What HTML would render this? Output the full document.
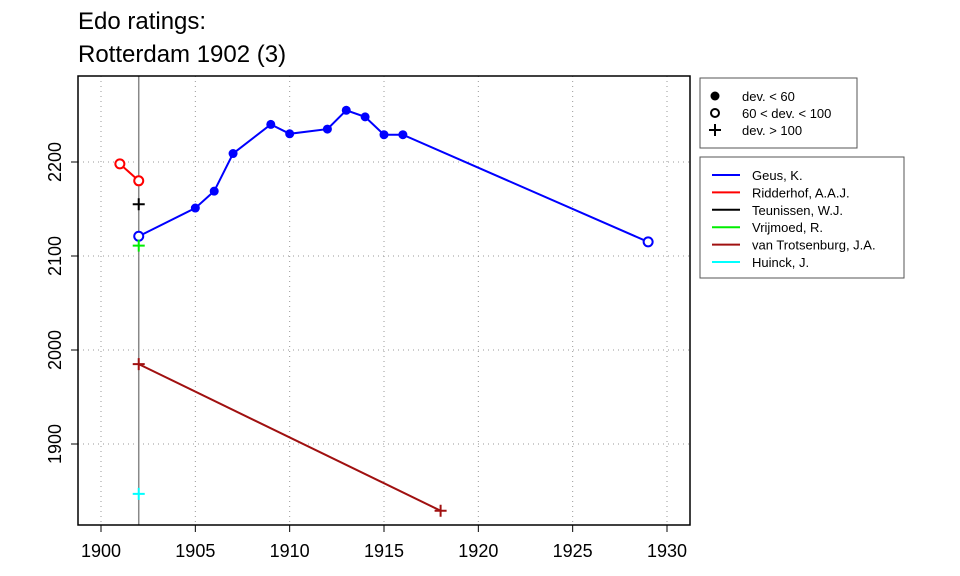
<!DOCTYPE html>
<html><head><meta charset="utf-8"><style>
body{margin:0;background:#fff}
svg{display:block;font-family:"Liberation Sans",Arial,sans-serif}
</style></head><body>
<svg id="c" width="960" height="576">
<text x="78" y="29" font-size="24">Edo ratings:</text>
<text x="78" y="62" font-size="24">Rotterdam 1902 (3)</text>
<g id="grid"></g>
<g id="axes"></g>
<g id="series"></g>
<rect x="78" y="76" width="612" height="449" fill="none" stroke="#000" stroke-width="1.5"/>
<g>
<rect x="700" y="78" width="157" height="70" fill="#fff" stroke="#555"/>
<circle cx="715" cy="96" r="4.5" fill="#000"/>
<circle cx="715" cy="113" r="4" fill="none" stroke="#000" stroke-width="2"/>
<path d="M709 130h12M715 124v12" stroke="#000" stroke-width="2"/>
<text x="742" y="101" font-size="13">dev. &lt; 60</text>
<text x="742" y="118" font-size="13">60 &lt; dev. &lt; 100</text>
<text x="742" y="135" font-size="13">dev. &gt; 100</text>
</g>
<g id="legend">
<rect x="700" y="157" width="204" height="121" fill="#fff" stroke="#555"/>
</g>
</svg>
<script>
const years=[1902,1905,1906,1907,1909,1910,1912,1913,1914,1915,1916,1929];
const geusVals=[2121,2151,2169,2209,2240,2230,2235,2255,2248,2229,2229,2115];
const geusSym=['o','f','f','f','f','f','f','f','f','f','f','o'];
const ridYears=[1901,1902];const ridVals=[2198,2180];const ridSym=['o','o'];
const teuYears=[1902];const teuVals=[2155];const teuSym=['p'];
const vriYears=[1902];const vriVals=[2111];const vriSym=['p'];
const vanYears=[1902,1918];const vanVals=[1985,1829];const vanSym=['p','p'];
const huiYears=[1902];const huiVals=[1847];const huiSym=['p'];
const xTicks=[1900,1905,1910,1915,1920,1925,1930];
const yTicks=[1900,2000,2100,2200];
const names=['Geus, K.','Ridderhof, A.A.J.','Teunissen, W.J.','Vrijmoed, R.','van Trotsenburg, J.A.','Huinck, J.'];
const colors=['#0000ff','#ff0000','#000000','#00ee00','#a01010','#00ffff'];
const NS='http://www.w3.org/2000/svg';
const X=y=>101+(y-1900)*(566/30);
const Y=v=>162+(2200-v)*0.94;
function mk(p,t,a){const e=document.createElementNS(NS,t);for(const k in a)e.setAttribute(k,a[k]);p.appendChild(e);return e;}
const grid=document.getElementById('grid'),axes=document.getElementById('axes'),ser=document.getElementById('series'),leg=document.getElementById('legend');
xTicks.forEach(t=>{
 const l=mk(grid,'line',{x1:X(t),x2:X(t),y1:76,y2:525,stroke:'#999','stroke-dasharray':'1 4'});
 
 
 mk(axes,'line',{x1:X(t),x2:X(t),y1:525,y2:532,stroke:'#000'});
 const tx=mk(axes,'text',{x:X(t),y:557,'font-size':18,'text-anchor':'middle'});tx.textContent=t;
 
 
});
yTicks.forEach(t=>{
 const l=mk(grid,'line',{x1:78,x2:690,y1:Y(t),y2:Y(t),stroke:'#999','stroke-dasharray':'1 4'});
 
 
 mk(axes,'line',{x1:71,x2:78,y1:Y(t),y2:Y(t),stroke:'#000'});
 const tx=mk(axes,'text',{x:0,y:0,'font-size':18,'text-anchor':'middle',transform:`translate(61,${Y(t)}) rotate(-90)`});tx.textContent=t;
 
 
});
const vl=mk(grid,'line',{x1:X(1902),x2:X(1902),y1:76,y2:525,stroke:'#888','stroke-width':1.5});


const all=[[years,geusVals,geusSym],[ridYears,ridVals,ridSym],[teuYears,teuVals,teuSym],[vriYears,vriVals,vriSym],[vanYears,vanVals,vanSym],[huiYears,huiVals,huiSym]];
all.forEach(([xs,vs,ss],i)=>{
 const c=colors[i];
 const g=mk(ser,'g',{});
 
 
 if(xs.length>1)mk(g,'polyline',{points:xs.map((x,j)=>X(x)+','+Y(vs[j])).join(' '),fill:'none',stroke:c,'stroke-width':2});
 xs.forEach((x,j)=>{
  const cx=X(x),cy=Y(vs[j]);let m;
  if(ss[j]==='f')m=mk(g,'circle',{cx,cy,r:4.5,fill:c});
  else if(ss[j]==='o')m=mk(g,'circle',{cx,cy,r:4.5,fill:'#fff',stroke:c,'stroke-width':2});
  else m=mk(g,'path',{d:`M${cx-6} ${cy}h12M${cx} ${cy-6}v12`,stroke:c,'stroke-width':2});
  
  
 });
});
names.forEach((n,i)=>{
 const y=175+i*17.4;
 mk(leg,'line',{x1:712,x2:740,y1:y,y2:y,stroke:colors[i],'stroke-width':2});
 const t=mk(leg,'text',{x:752,y:y+5,'font-size':13});t.textContent=n;
 
 
});
</script>
</body></html>
